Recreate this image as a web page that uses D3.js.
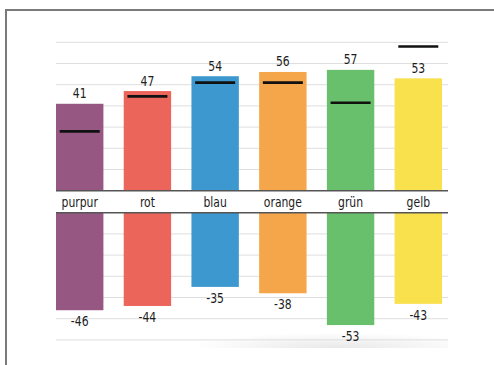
<!DOCTYPE html>
<html>
<head>
<meta charset="utf-8">
<script src="https://cdn.jsdelivr.net/npm/d3@7"></script>
<style>
  html, body { margin: 0; padding: 0; background: #fff; overflow: hidden; }
  svg { display: block; }
  text { font-family: "DejaVu Sans Condensed", "Liberation Sans Narrow", sans-serif; font-stretch: condensed; fill: #1c1c1c; }
</style>
</head>
<body>
<svg id="chart" width="494" height="365"></svg>
<script>
// Categories and values
const categories = ["purpur", "rot", "blau", "orange", "grün", "gelb"];
const upperValues = [41, 47, 54, 56, 57, 53];
const lowerValues = [-46, -44, -35, -38, -53, -43];
const targetValues = [28, 44.5, 51, 51, 41.5, 68];
const colors = ["#965882", "#ec655a", "#3c98ce", "#f5a64b", "#69c06c", "#f9e04d"];
const upperTicks = [10, 20, 30, 40, 50, 60, 70];
const lowerTicks = [-10, -20, -30, -40, -50, -60];

const svg = d3.select("#chart");

// Outer frame (left and top edges are inside the view)
svg.append("path")
  .attr("d", "M6,365 V10 H494")
  .attr("fill", "none")
  .attr("stroke", "#7a7a7a")
  .attr("stroke-width", 2);

const plotLeft = 56, plotRight = 448;

const x = d3.scaleBand()
  .domain(categories)
  .range([56, 442])
  .paddingInner(0.3)
  .paddingOuter(0);

const yUp = d3.scaleLinear().domain([0, 70]).range([190.7, 42.3]);
const yDown = d3.scaleLinear().domain([0, -60]).range([212.7, 339.9]);

// Soft shadow under the lower panel
const defs = svg.append("defs");
const grad = defs.append("radialGradient")
  .attr("id", "shade")
  .attr("cx", "0.55").attr("cy", "1")
  .attr("r", "0.6");
grad.append("stop").attr("offset", "0").attr("stop-color", "#000").attr("stop-opacity", 0.09);
grad.append("stop").attr("offset", "1").attr("stop-color", "#000").attr("stop-opacity", 0);
svg.append("rect")
  .attr("x", 200).attr("y", 322)
  .attr("width", plotRight - 200).attr("height", 26)
  .attr("fill", "url(#shade)");

// Gridlines
svg.append("g").selectAll("line")
  .data(upperTicks)
  .join("line")
  .attr("x1", plotLeft).attr("x2", plotRight)
  .attr("y1", d => yUp(d)).attr("y2", d => yUp(d))
  .attr("stroke", "#dedede").attr("stroke-width", 1);

svg.append("g").selectAll("line")
  .data(lowerTicks)
  .join("line")
  .attr("x1", plotLeft).attr("x2", plotRight)
  .attr("y1", d => yDown(d)).attr("y2", d => yDown(d))
  .attr("stroke", "#dedede").attr("stroke-width", 1);

// Upper bars
svg.append("g").selectAll("rect")
  .data(categories)
  .join("rect")
  .attr("x", d => x(d))
  .attr("width", x.bandwidth())
  .attr("y", (d, i) => yUp(upperValues[i]))
  .attr("height", (d, i) => yUp(0) - yUp(upperValues[i]))
  .attr("fill", (d, i) => colors[i]);

// Lower bars
svg.append("g").selectAll("rect")
  .data(categories)
  .join("rect")
  .attr("x", d => x(d))
  .attr("width", x.bandwidth())
  .attr("y", yDown(0))
  .attr("height", (d, i) => yDown(lowerValues[i]) - yDown(0))
  .attr("fill", (d, i) => colors[i]);

// Target markers
svg.append("g").selectAll("line")
  .data(categories)
  .join("line")
  .attr("x1", d => x(d) + x.bandwidth() / 2 - 20)
  .attr("x2", d => x(d) + x.bandwidth() / 2 + 20)
  .attr("y1", (d, i) => yUp(targetValues[i]))
  .attr("y2", (d, i) => yUp(targetValues[i]))
  .attr("stroke", "#111")
  .attr("stroke-width", 2.6);

// Baselines
[yUp(0), yDown(0)].forEach(yy => {
  svg.append("line")
    .attr("x1", plotLeft).attr("x2", plotRight)
    .attr("y1", yy).attr("y2", yy)
    .attr("stroke", "#555").attr("stroke-width", 1.5);
});

// Narrow text helper: positions a label and squeezes it horizontally
function label(sel, fx, fy, ft) {
  sel.join("text")
    .attr("transform", (d, i) => `translate(${fx(d, i)},${fy(d, i)}) scale(0.83,1)`)
    .attr("text-anchor", "middle")
    .attr("font-size", 14.5)
    .text(ft);
}

const cx = d => x(d) + x.bandwidth() / 2;

// Category labels
label(svg.append("g").selectAll("text").data(categories), cx, () => 206.5, d => d);

// Value labels above the upper bars
label(svg.append("g").selectAll("text").data(categories), cx,
  (d, i) => yUp(upperValues[i]) - 5.5, (d, i) => upperValues[i]);

// Value labels below the lower bars
label(svg.append("g").selectAll("text").data(categories), cx,
  (d, i) => yDown(lowerValues[i]) + 16, (d, i) => lowerValues[i]);
</script>
</body>
</html>
